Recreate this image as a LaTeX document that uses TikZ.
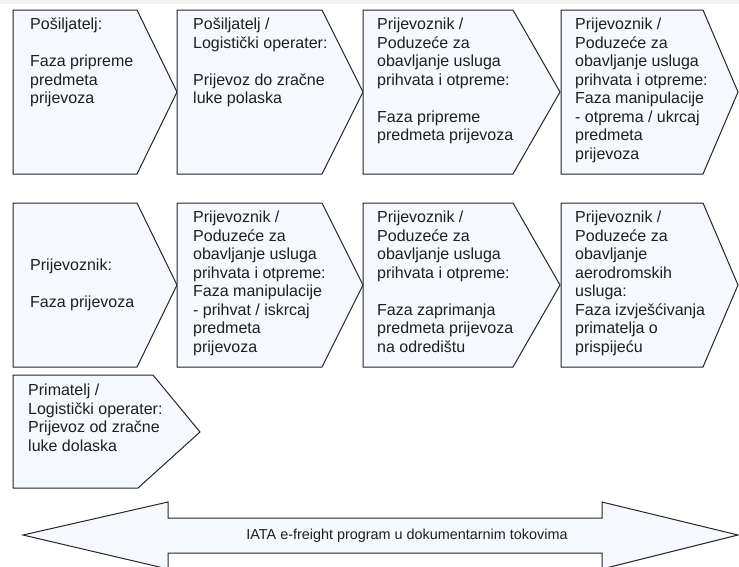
\documentclass[tikz,border=0pt]{standalone}
\usepackage{fontspec}
\setmainfont{Liberation Sans}
\definecolor{phasefill}{HTML}{F5F8FC}
\begin{document}
\begin{tikzpicture}[x=1pt,y=-1pt,line join=miter,
    phase/.style={draw=black!85,fill=phasefill,line width=1pt},
    lbl/.style={anchor=north west,align=left,inner sep=0pt,text=black!88,font=\fontsize{16}{18.5}\selectfont}]
    \useasboundingbox (0,0) rectangle (739,566);
    \fill [black!6] (0,0) rectangle (739,4);
    % rows 1 and 2
    \foreach \l/\c/\t in {13/137/177,177/322/363,363/513/560,561/703/738}
        \foreach \yt/\yb in {10/174,203/367}
            \draw [phase] (\l,\yt) -- (\c,\yt) -- (\t,{(\yt+\yb)/2}) -- (\c,\yb) -- (\l,\yb) -- cycle;
    % row 3
    \draw [phase] (13,375) -- (153,375) -- (200,432) -- (138,488) -- (13,488) -- cycle;
    % e-freight arrow
    \draw [phase] (23,535) -- (168,502) -- (168,518) -- (602,518) -- (602,502) -- (738,535)
        -- (602,569) -- (602,553) -- (168,553) -- (168,569) -- cycle;

    \node [lbl] (p1) at (30,18) {Pošiljatelj:\\[18.5pt]Faza pripreme\\predmeta\\prijevoza};
    \node [lbl] (p2) at (193,18) {Pošiljatelj /\\Logistički operater:\\[18.5pt]Prijevoz do zračne\\luke polaska};
    \node [lbl] (p3) at (377,18) {Prijevoznik /\\Poduzeće za\\obavljanje usluga\\prihvata i otpreme:\\[18.5pt]Faza pripreme\\predmeta prijevoza};
    \node [lbl] (p4) at (575,18) {Prijevoznik /\\Poduzeće za\\obavljanje usluga\\prihvata i otpreme:\\Faza manipulacije\\- otprema / ukrcaj\\predmeta\\prijevoza};

    \node [lbl,anchor=west] (q1) at (30,285) {Prijevoznik:\\[18.5pt]Faza prijevoza};
    \node [lbl] (q2) at (193,211) {Prijevoznik /\\Poduzeće za\\obavljanje usluga\\prihvata i otpreme:\\Faza manipulacije\\- prihvat / iskrcaj\\predmeta\\prijevoza};
    \node [lbl] (q3) at (377,211) {Prijevoznik /\\Poduzeće za\\obavljanje usluga\\prihvata i otpreme:\\[18.5pt]Faza zaprimanja\\predmeta prijevoza\\na odredištu};
    \node [lbl] (q4) at (575,211) {Prijevoznik /\\Poduzeće za\\obavljanje\\aerodromskih\\usluga:\\Faza izvješćivanja\\primatelja o\\prispijeću};

    \node [lbl] (r1) at (28,384) {Primatelj /\\Logistički operater:\\Prijevoz od zračne\\luke dolaska};

    \node [lbl,anchor=center,font=\fontsize{14.4}{17}\selectfont] (iata) at (407,536) {IATA e-freight program u dokumentarnim tokovima};
\end{tikzpicture}
\end{document}
